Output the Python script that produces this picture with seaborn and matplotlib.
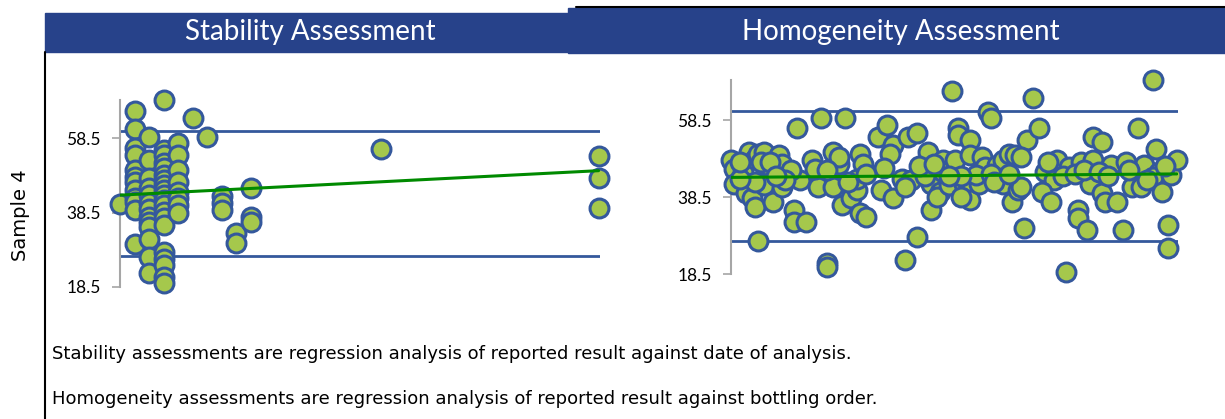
import matplotlib
matplotlib.use("Agg")
import matplotlib.pyplot as plt
from matplotlib.patches import Rectangle
from matplotlib.lines import Line2D
import seaborn as sns

# Stability: result against analysis date (index of analysis day)
stab_day = [0,
            1, 1, 1, 1, 1, 1, 1, 1, 1, 1, 1, 1,
            2, 2, 2, 2, 2, 2, 2, 2, 2, 2, 2, 2, 2,
            3, 3, 3, 3, 3, 3, 3, 3, 3, 3, 3, 3, 3, 3, 3, 3, 3, 3, 3, 3,
            4, 4, 4, 4, 4, 4, 4, 4,
            5, 6, 7, 7, 7, 8, 8, 9, 9, 9, 18, 33, 33, 33]
stab_result = [40.7,
               65.8, 61.0, 55.8, 54.0, 50.0, 48.1, 46.8, 44.5, 42.3, 41.4, 39.2, 30.0,
               58.9, 52.6, 47.7, 45.0, 43.2, 41.0, 39.5, 37.4, 36.0, 34.5, 31.5, 26.6, 22.1,
               68.8, 55.3, 54.0, 52.0, 50.4, 48.6, 47.2, 45.9, 44.6, 43.2, 41.9, 40.5, 38.7,
               36.9, 35.1, 27.9, 26.0, 24.3, 21.2, 19.4,
               57.3, 54.0, 49.9, 46.8, 44.1, 42.3, 40.5, 38.3,
               64.0, 58.9, 43.0, 41.0, 39.2, 33.0, 30.2, 45.0, 37.2, 36.0, 55.6, 53.7, 47.7, 39.6]
stab_limits = [60.5, 26.8]
stab_trend = [43.2, 49.8]   # fitted value at first and last day

# Homogeneity: result against bottling order
homog_bottle = [1, 2, 2, 5, 7, 9, 6, 8, 9, 10, 12, 13, 12, 15, 17, 18, 18, 9, 11, 14, 4, 10,
                22, 22, 26, 23, 31, 39, 24, 28, 30, 30, 29, 33, 33, 35, 35, 37, 37, 38, 41, 43,
                44, 45, 44, 46, 43,
                50, 53, 55, 54, 52, 51, 55, 60, 63, 58, 61, 59, 67, 68, 68, 71, 70, 72, 72, 74,
                75, 76, 77, 77, 81, 81, 79, 81, 78, 84, 85, 86, 83, 87, 88, 90, 92, 94, 96, 92,
                95, 97, 98, 100, 99, 63, 59,
                102, 142, 98, 104, 106, 109, 110, 105, 108, 114, 113, 117, 117, 120, 118, 122,
                125, 122, 123, 121, 125, 126, 130, 128, 132, 137, 135, 138, 139, 143, 144, 142,
                145, 148, 150, 147, 147,
                107, 112, 116, 119, 124, 127, 133, 134, 140, 146, 78, 88, 89, 94, 66, 64, 69, 74,
                46, 40, 33, 21, 19, 16, 4]
homog_result = [48.1, 45.9, 42.0, 45.1, 50.3, 48.5, 39.5, 38.2, 36.0, 49.8, 50.3, 46.8, 41.6,
                37.3, 49.4, 47.2, 41.2, 42.5, 47.7, 47.7, 43.3, 27.2,
                35.1, 32.1, 32.1, 56.3, 59.1, 59.1, 42.9, 48.1, 44.2, 41.2, 45.9, 21.3, 20.4,
                41.2, 50.3, 47.2, 49.0, 36.4, 38.2, 40.3, 49.8, 47.2, 34.3, 33.4, 43.3,
                54.2, 57.2, 52.0, 49.8, 46.0, 40.3, 38.2, 54.2, 55.0, 43.3, 42.9, 41.2, 50.3,
                42.0, 35.1, 39.9, 38.6, 48.1, 45.1, 41.6, 66.0, 48.1, 56.3, 54.6, 53.3, 49.4,
                42.0, 37.7, 38.6, 42.0, 49.0, 46.4, 44.2, 60.7, 58.9, 46.8, 48.1, 49.8, 49.4,
                42.0, 37.3, 40.3, 41.2, 53.3, 30.4, 28.2, 22.1,
                64.1, 68.9, 49.0, 56.3, 45.1, 42.9, 48.1, 39.9, 37.3, 46.4, 19.1, 35.1, 33.0,
                29.9, 47.7, 54.2, 52.9, 48.1, 42.0, 42.0, 39.5, 37.3, 37.3, 46.8, 29.9, 56.3,
                41.2, 41.2, 46.8, 51.1, 45.1, 43.8, 39.9, 44.2, 48.1, 31.2, 25.2,
                47.5, 44.0, 44.5, 45.5, 45.0, 44.0, 47.5, 45.5, 43.0, 46.5, 44.0, 44.5, 42.5,
                44.5, 44.0, 46.5, 47.0, 44.0, 44.5, 42.5, 45.5, 45.5, 43.0, 44.0, 47.5]
homog_limits = [60.9, 27.1]
homog_trend = [43.6, 44.5]  # fitted value at first and last bottle

y_ticks = [18.5, 38.5, 58.5]

W, H = 1225, 419
HEADER_BLUE = "#27428A"
FILL = "#A5C84C"
EDGE = "#34589C"
LIMIT = "#34589C"
NOTE_FONT = ["DejaVu Sans"]

sns.set_style("white")
plt.rcParams["font.family"] = ["Lato", "DejaVu Sans"]
plt.rcParams["text.color"] = "black"

fig = plt.figure(figsize=(W / 100, H / 100), dpi=100)


def px_box(x0, y0, x1, y1):
    # pixel box (top-left origin) -> figure fraction rect
    return [x0 / W, 1 - y1 / H, (x1 - x0) / W, (y1 - y0) / H]


def draw_panel(ax, xs, ys, limits, trend, xlim):
    for lim in limits:
        ax.axhline(lim, color=LIMIT, lw=2, zorder=1)
    sns.scatterplot(x=xs, y=ys, ax=ax, s=185, color=FILL, edgecolor=EDGE,
                    linewidth=2.2, clip_on=False, zorder=3, legend=False)
    sns.lineplot(x=[min(xs), max(xs)], y=trend, ax=ax, color="#008A00", lw=2.2, zorder=4)
    ax.set_xlim(*xlim)
    ax.set_ylim(18.5, 69)
    ax.set_yticks(y_ticks)
    ax.set_yticklabels([f"{t:.1f}" for t in y_ticks])
    ax.set_xticks([])
    ax.set_xlabel("")
    ax.set_ylabel("")
    for side in ["top", "right", "bottom"]:
        ax.spines[side].set_visible(False)
    ax.spines["left"].set_color("#A6A6A6")
    ax.spines["left"].set_linewidth(1.5)
    ax.tick_params(axis="y", direction="out", length=6, width=1.2, color="#A6A6A6",
                   labelsize=12.5, labelcolor="black", pad=8, left=True)
    ax.patch.set_alpha(0)


ax1 = fig.add_axes(px_box(120, 99.5, 600, 286.7))
draw_panel(ax1, stab_day, stab_result, stab_limits, stab_trend, (0, 33.1))

ax2 = fig.add_axes(px_box(731, 79.6, 1178, 274))
draw_panel(ax2, homog_bottle, homog_result, homog_limits, homog_trend, (1, 150.4))

# header bars
fig.add_artist(Rectangle((45 / W, 1 - 52 / H), (568 - 45) / W, (52 - 13) / H,
                         transform=fig.transFigure, color=HEADER_BLUE, zorder=0))
fig.add_artist(Rectangle((568 / W, 1 - 53 / H), (W - 568) / W, (53 - 8) / H,
                         transform=fig.transFigure, color=HEADER_BLUE, zorder=0))
fig.add_artist(Line2D([576 / W, 1], [1 - 7 / H, 1 - 7 / H], color="black", lw=1.5))
fig.text(310 / W, 1 - 32 / H, "Stability Assessment", color="white", fontsize=20,
         ha="center", va="center")
fig.text(901 / W, 1 - 32 / H, "Homogeneity Assessment", color="white", fontsize=20,
         ha="center", va="center")

# frame line on the left of the content
fig.add_artist(Line2D([45 / W, 45 / W], [0, 1 - 52 / H], color="black", lw=1.5))

fig.text(21 / W, 1 - 215 / H, "Sample 4", rotation=90, fontsize=14,
         ha="center", va="center", family=NOTE_FONT)

fig.text(52 / W, 1 - 354 / H,
         "Stability assessments are regression analysis of reported result against date of analysis.",
         fontsize=13, ha="left", va="center", family=NOTE_FONT)
fig.text(52 / W, 1 - 399 / H,
         "Homogeneity assessments are regression analysis of reported result against bottling order.",
         fontsize=13, ha="left", va="center", family=NOTE_FONT)

fig.savefig("out.png", dpi=100)
